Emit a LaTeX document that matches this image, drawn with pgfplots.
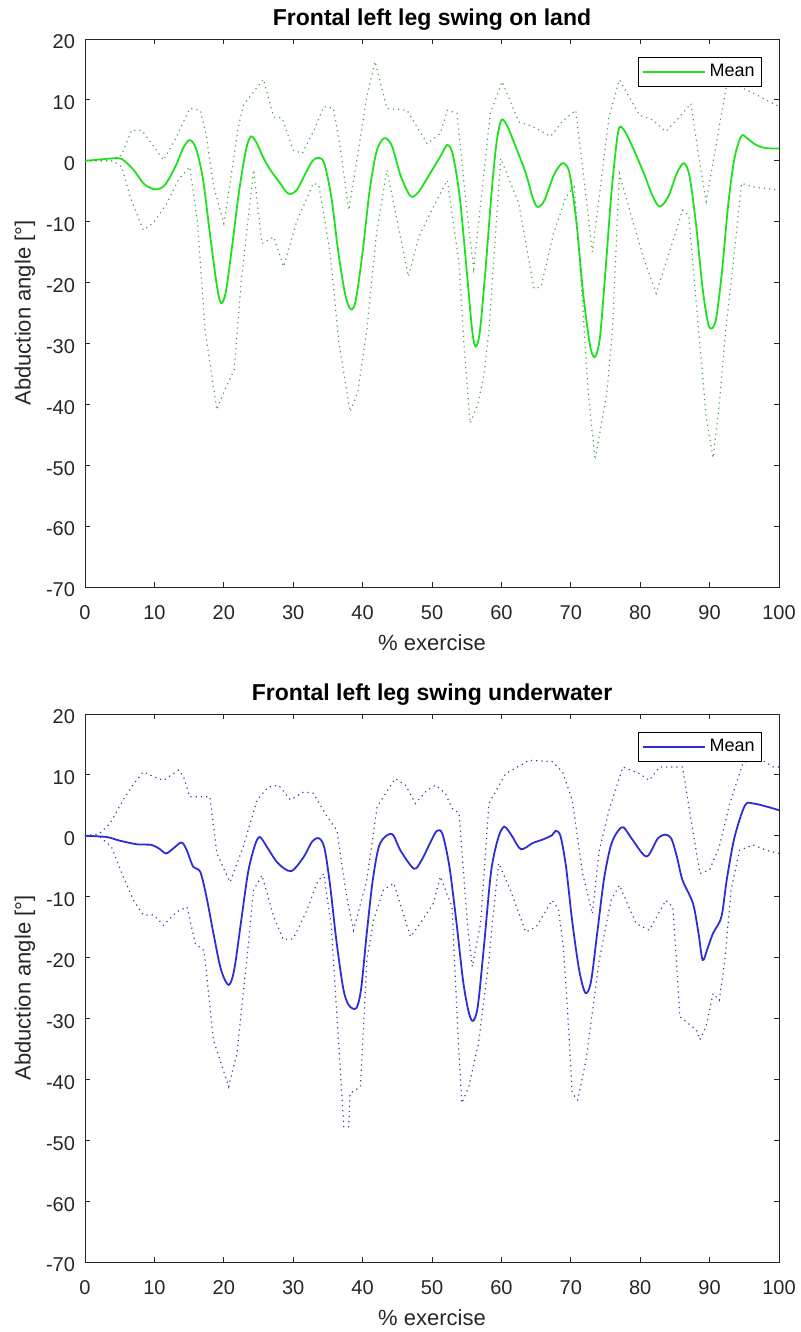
\documentclass[border=0pt]{standalone}
\usepackage{fontspec}
\setmainfont{Liberation Sans}
\usepackage{pgfplots}
\pgfplotsset{compat=1.18}
\definecolor{mgreen}{RGB}{30,225,30}
\definecolor{dgreen}{RGB}{80,160,80}
\definecolor{mblue}{RGB}{45,45,215}
\definecolor{dblue}{RGB}{60,60,160}
\definecolor{axgray}{RGB}{38,38,38}
\pgfplotsset{
  mstyle/.style={
    scale only axis, width=347pt, height=274pt,
    xmin=0, xmax=100, ymin=-70, ymax=20,
    xtick={0,10,...,100}, ytick={-70,-60,...,20},
    tick align=inside, major tick length=2.5pt,
    axis line style={axgray, line width=0.4pt},
    tick style={axgray, line width=0.4pt},
    ticklabel style={font=\fontsize{10}{11}\selectfont, text=axgray},
    xticklabel style={yshift=-5.5pt},
    yticklabel style={xshift=-1.5pt, yshift=-1.5pt},
    /pgf/number format/assume math mode=true,
    xlabel={\% exercise}, ylabel={Abduction angle [°]},
    label style={font=\fontsize{11}{12}\selectfont, text=axgray},
    xlabel style={at={(axis description cs:0.5,0)}, anchor=center, yshift=-28pt},
    ylabel style={at={(axis description cs:-0.0865,0.5)}, anchor=center},
    every axis title/.style={at={(axis description cs:0.5,1)}, anchor=south, inner sep=0pt, yshift=4pt, font=\bfseries\fontsize{11.5}{13}\selectfont},
    legend style={at={(1,1)}, anchor=north east, xshift=-8.5pt, yshift=-9pt,
      draw=black, line width=0.4pt, font=\fontsize{9}{10}\selectfont,
      inner sep=1.5pt},
    legend cell align=left,
    legend image code/.code={\draw[#1] (0pt,0pt) -- (31pt,0pt);},
  },
  meanl/.style={line width=0.9pt, smooth},
  dotl/.style={line width=0.6pt, dotted},
}
\begin{document}
\begin{tikzpicture}[x=1pt,y=1pt]
\path[use as bounding box] (0,0) rectangle (400.5,-666);
\begin{axis}[mstyle, at={(42.5pt,-19.5pt)}, anchor=north west,
  title={Frontal left leg swing on land}]
\addplot[mgreen, meanl] coordinates {
(0,0)(2,0.2)(4,0.4)(5.3,0.3)(7,-1.5)(8.5,-3.8)(10.1,-4.7)(11.5,-4.0)(13,-1.0)(14.2,2.2)(15.1,3.4)(16,2.0)(17,-3)(18,-12)(19,-20.5)(19.6,-23.4)(20.3,-21.5)(21.2,-14)(22.2,-5)(23.2,1.8)(23.9,4.0)(24.7,3.0)(25.7,0.5)(26.7,-1.5)(28,-3.5)(29.3,-5.4)(30.5,-4.8)(31.8,-2)(32.8,0)(33.7,0.5)(34.5,-0.5)(35.5,-6)(36.5,-15)(37.5,-22)(38.3,-24.4)(39,-23)(40,-15)(41,-5)(42,1.5)(43.1,3.7)(44.2,2.5)(45.5,-2.5)(46.9,-5.8)(48,-5.2)(49.5,-2.5)(51.2,0.7)(52.2,2.6)(53,1.0)(54,-6)(55,-18)(55.8,-28)(56.3,-30.5)(56.9,-28)(57.7,-18)(58.6,-5)(59.3,3)(60,6.7)(60.8,5.8)(62,2.5)(63.5,-2)(64.5,-6)(65.2,-7.6)(66.2,-6.5)(67.5,-2.5)(68.4,-0.8)(69,-0.4)(69.8,-2)(70.8,-10)(71.8,-22)(72.8,-30.5)(73.5,-32.2)(74.2,-29)(75,-18)(75.8,-6)(76.5,2)(77,5.5)(77.8,4.8)(79,2)(80.5,-2)(81.8,-5.8)(82.8,-7.5)(84,-6)(85.3,-2)(86.3,-0.4)(87.1,-2.5)(88,-10)(89,-21)(89.8,-26.8)(90.4,-27.5)(91,-25.5)(91.8,-18)(92.7,-7)(93.6,0.5)(94.6,4.1)(95.5,3.6)(96.7,2.6)(98,2.1)(100,2.0)
};
\addlegendentry{Mean}
\addplot[dgreen, dotl, forget plot] coordinates {
(0,0)(4,0)(5.3,1)(6.7,5.0)(8.2,5.0)(9.5,3)(11.3,0.1)(13,3.5)(15.1,8.6)(16.6,8.3)(17.5,4)(18.5,-4)(20,-10.3)(21,-3)(22,5)(22.8,9.1)(25.7,13.4)(27.2,7.2)(28.4,7.0)(30,1.8)(31.3,1.2)(33,5)(34.4,8.9)(35.8,8.6)(36.8,2)(38,-8.1)(39.3,1)(40.6,10.5)(41.8,16.3)(43.5,8.6)(46.4,8.3)(49.3,2.8)(51.2,4.5)(52.2,8.3)(53.6,7.8)(55,-8)(56.0,-17.7)(57.2,-5)(58.4,7.8)(60.1,13.0)(62.5,6.4)(64.5,5.6)(67.1,4.0)(68.8,6.5)(70.7,8.3)(71.9,-3)(73.1,-15.0)(74.3,-4)(75.5,7.2)(77.0,13.3)(79.9,7.5)(81.8,6.7)(83.7,4.8)(85.5,7)(87.3,9.4)(88.4,1)(89.5,-6.7)(91,3)(92.4,12.2)(94.3,12.2)(96.3,11.1)(100,8.9)
};
\addplot[dgreen, dotl, forget plot] coordinates {
(0,0)(4,0)(5.3,-1)(6.5,-5.9)(8.4,-11.4)(10,-10)(11.8,-7)(13.5,-3)(15.1,-1)(16.2,-10)(17.3,-27.8)(19,-40.9)(20,-38)(21.5,-34.3)(22.5,-20)(24.3,-1.5)(25.5,-13.6)(27.2,-12.5)(28.6,-17.4)(30.5,-10)(32.9,-3.7)(33.7,-4)(35.3,-15)(36.6,-30)(38.2,-41.2)(39.3,-38)(40.6,-27.8)(42,-12)(43.5,-1.5)(45,-10)(46.6,-19)(48.1,-12.5)(50,-8)(52.2,-3.2)(53.9,-16.9)(54.6,-30)(55.5,-43.1)(56.6,-40)(57.5,-35)(58.2,-27.9)(59.9,0.4)(62.5,-7.0)(64.7,-21.0)(65.7,-20.7)(67.5,-12)(69.3,-5.9)(70.5,-4.3)(71.5,-20)(72.5,-38)(73.5,-49.1)(74.6,-42)(75.2,-38)(76,-27.9)(77.0,-2.1)(78.9,-9.8)(80.5,-16)(82.3,-21.8)(84.2,-15)(86.1,-8.1)(87,-9)(88.2,-25)(89.5,-42)(90.5,-48.8)(91.4,-40)(92.3,-28)(93.4,-16.9)(94.6,-3.7)(96.3,-4.3)(100,-4.8)
};
\end{axis}
\begin{axis}[mstyle, at={(42.5pt,-357pt)}, anchor=north west,
  title={Frontal left leg swing underwater}]
\addplot[mblue, meanl] coordinates {
(0,0)(3.1,-0.2)(5,-0.8)(7.5,-1.4)(9.6,-1.5)(10.8,-2.2)(11.7,-2.9)(12.8,-2.0)(13.9,-1.1)(14.6,-2.2)(15.6,-5.1)(16.6,-5.9)(17.5,-10)(18.5,-16)(19.6,-22)(20.7,-24.5)(21.5,-22)(22.5,-14)(23.5,-6)(24.5,-1.5)(25.2,-0.2)(26.2,-1.8)(27.8,-4.5)(29.7,-5.8)(31.5,-3.5)(32.7,-1)(33.7,-0.4)(34.5,-2)(35.3,-8)(36.2,-17)(37.2,-25)(38.0,-27.8)(39.1,-28.3)(39.8,-25)(40.6,-16)(41.5,-7)(42.5,-1.3)(44.2,0.3)(45.5,-2.5)(47.4,-5.4)(48.5,-4)(49.8,-1)(50.7,0.8)(51.5,0.3)(52.5,-5)(53.5,-14)(54.5,-24)(55.3,-29)(55.9,-30.4)(56.6,-28)(57.5,-18)(58.5,-6)(59.5,-0.5)(60.4,1.5)(61.5,0)(62.8,-2.2)(64.5,-1.2)(66,-0.6)(67.3,0.1)(67.8,0.8)(68.5,0)(69.3,-5)(70.2,-14)(71.2,-22)(72.1,-25.8)(72.9,-24)(73.8,-16)(74.8,-7)(75.8,-1.5)(76.8,0.8)(77.6,1.4)(78.8,-0.5)(80.9,-3.4)(82.5,-0.5)(83.6,0.2)(84.5,-0.5)(85.3,-3.5)(86.1,-7.3)(87.6,-11.1)(88.4,-16)(89.0,-20.4)(89.7,-18.5)(90.5,-16.0)(91.7,-13.3)(92.5,-7)(93.6,-0.2)(95.1,5.0)(96.3,5.3)(98.2,4.8)(100,4.2)
};
\addlegendentry{Mean}
\addplot[dblue, dotl, forget plot] coordinates {
(0,0)(2,0.3)(3.6,2.0)(5.5,5.9)(7,8.5)(8.4,10.5)(9.9,9.7)(11.3,9.1)(13.5,10.8)(14.2,9.7)(15.1,6.4)(16.6,6.4)(18,6.4)(19,-2.9)(20.9,-7.6)(22.8,-1.8)(24.8,5.9)(26.4,8.0)(27.9,8.3)(29.6,5.9)(31.5,7.2)(32.9,7.0)(34.9,3.1)(36.3,0.9)(37.7,-10.0)(38.7,-15.5)(40.6,-7.3)(42.1,4.8)(44.7,9.4)(46.2,8.3)(47.6,5.3)(49.3,7.5)(50.5,8.3)(51.9,7.0)(52.9,4.5)(53.9,3.7)(55.1,-14.4)(55.8,-21.5)(57,-14.4)(58.2,5.3)(60.6,10.2)(64,12.4)(67.3,12.2)(68.8,10.5)(70.2,5.9)(71.7,-6.2)(73.1,-12.8)(74.1,-2.4)(75.5,4.2)(77.5,11.3)(79.9,10.2)(81.3,9.1)(82.8,11.3)(86.1,11.3)(87.1,4.2)(88.6,-6.2)(90,-5.6)(91.4,-1.8)(92.9,5.3)(94.8,11.9)(96.7,13)(99.2,11.3)(100,11.3)
};
\addplot[dblue, dotl, forget plot] coordinates {
(0,0)(2,0)(3.8,-1.8)(5.5,-6.7)(7,-10.6)(8.4,-13.0)(9.9,-13.0)(11.3,-14.7)(13.2,-12.5)(14.7,-11.7)(15.9,-17.7)(17.1,-18.8)(17.3,-20.4)(18.5,-33.5)(20.7,-41.2)(21.9,-35.7)(23.3,-20.4)(24.3,-8.9)(25.5,-6.5)(27.2,-13.3)(28.6,-17.1)(30,-16.9)(32,-12.2)(33.4,-7.8)(34.4,-6.2)(35.5,-15)(36.1,-25.9)(37.3,-47.8)(38,-47.8)(38.2,-42.3)(39.7,-41.2)(40.6,-20.4)(41.6,-13.8)(43,-8.9)(44.5,-7.8)(46.9,-16.6)(48.3,-14.4)(50.2,-11.1)(51.2,-6.7)(52.9,-11.7)(53.3,-22)(53.8,-34)(54.3,-43.9)(55.3,-41.2)(56.7,-34.1)(58.2,-20.4)(58.7,-14.4)(59.6,-4.5)(61.3,-8.9)(63.5,-15.8)(65,-15)(67.3,-10.6)(68.2,-12)(68.9,-18)(69.5,-28)(70.2,-42.3)(71,-43.4)(72.2,-36.8)(74.1,-20.4)(75.8,-10.6)(77,-8.1)(79.4,-14.4)(81.3,-15.5)(83.7,-10.6)(84.7,-11.7)(85.2,-20)(85.7,-29.7)(88.1,-31.9)(88.6,-33.5)(89.5,-31.3)(90.5,-25.9)(91.4,-27)(92.2,-20.4)(93.1,-8.9)(94.3,-2.4)(96.3,-1.5)(98.2,-2.4)(100,-2.9)
};
\end{axis}
\end{tikzpicture}
\end{document}
